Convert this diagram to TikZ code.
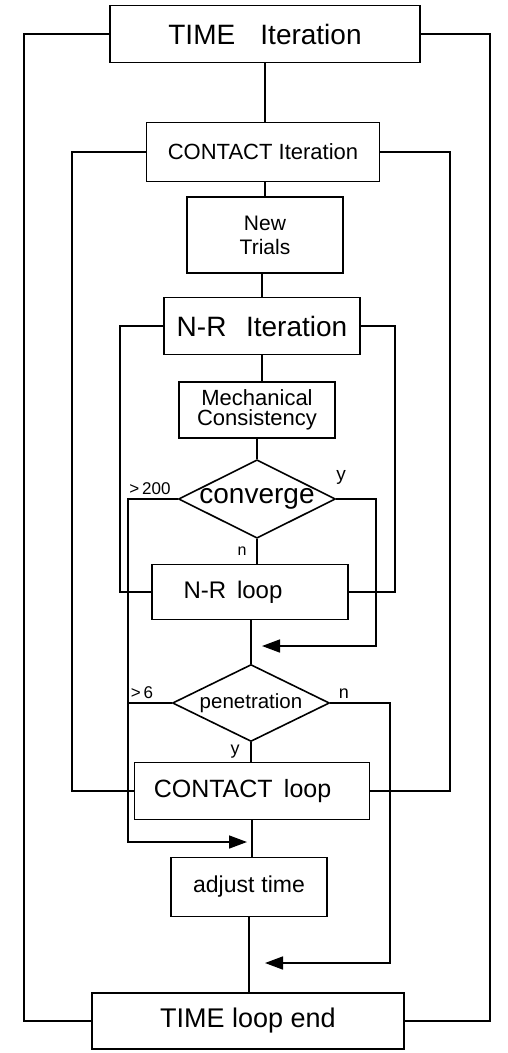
\documentclass[tikz,border=0pt]{standalone}
\usepackage{fontspec}
\setmainfont{Liberation Sans}
\usetikzlibrary{
  arrows.meta,
  shapes.geometric
}
\tikzset{
  % For plain lines and box outlines.
  line/.style={
    line width=1.6pt},
%
  % For the process boxes.
  block/.style={
    draw,
    line,
    rectangle,
    inner sep=0pt,
    align=center},
%
  % For the yes/no tests.
  test/.style={
    draw,
    line,
    diamond,
    aspect=2,
    inner sep=0pt},
%
  % For lines that end in a big solid arrow.
  direction/.style={
    line,
    -{Triangle[length=18pt, width=13pt]}},
%
  % For the small branch labels.
  tag/.style={
    inner sep=0pt,
    font=\fontsize{16pt}{16pt}\selectfont}
}

\begin{document}
\begin{tikzpicture}[x=1pt, y=-1pt]
  \useasboundingbox (0,0) rectangle (508,1053);

  % main column
  \node[block, minimum width=310pt, minimum height=57pt,
        font=\fontsize{28pt}{30pt}\selectfont] (time iter) at (265,34)
       {TIME\hspace{0.9em}Iteration};
  \node[block, minimum width=233pt, minimum height=59pt,
        font=\fontsize{22pt}{24pt}\selectfont] (contact iter) at (263,152)
       {CONTACT Iteration};
  \node[block, minimum width=156pt, minimum height=76pt,
        font=\fontsize{21pt}{24pt}\selectfont] (new trials) at (265,235)
       {New\\Trials};
  \node[block, minimum width=196pt, minimum height=57pt,
        font=\fontsize{28pt}{30pt}\selectfont] (nr iter) at (262,326)
       {N-R\hspace{0.7em}Iteration};
  \node[block, minimum width=156pt, minimum height=56pt,
        font=\fontsize{22pt}{20pt}\selectfont] (mech) at (257,410)
       {Mechanical\\Consistency};
  \node[test, minimum width=155pt, minimum height=76pt,
        font=\fontsize{28pt}{28pt}\selectfont] (converge) at (257,499)
       {converge};
  \node[block, minimum width=196pt, minimum height=55pt,
        font=\fontsize{24pt}{26pt}\selectfont] (nr loop) at (250,592)
       {N-R\hspace{0.45em}loop\hspace{34pt}};
  \node[test, minimum width=157pt, minimum height=77pt,
        font=\fontsize{20.5pt}{22pt}\selectfont] (penetration) at (251,703)
       {penetration};
  \node[block, minimum width=235pt, minimum height=57pt,
        font=\fontsize{25pt}{27pt}\selectfont] (contact loop) at (252,791)
       {CONTACT\hspace{0.45em}loop\hspace{19pt}};
  \node[block, minimum width=156pt, minimum height=59pt,
        font=\fontsize{23pt}{25pt}\selectfont] (adjust) at (249,887)
       {adjust\hspace{0.3em}time};
  \node[block, minimum width=312pt, minimum height=56pt,
        font=\fontsize{27pt}{29pt}\selectfont] (time end) at (248,1021)
       {TIME loop end};

  % rails of the three loops and the branch corners
  \coordinate (time rail l) at (24,0);
  \coordinate (time rail r) at (490,0);
  \coordinate (contact rail l) at (72,0);
  \coordinate (contact rail r) at (450,0);
  \coordinate (nr rail l) at (120,0);
  \coordinate (nr rail r) at (395,0);
  \coordinate (fail corner) at (128,842);
  \coordinate (fail tip) at (247,842);
  \coordinate (yes corner) at (376,646);
  \coordinate (yes tip) at (262,646);
  \coordinate (no corner) at (390,963);
  \coordinate (no tip) at (265,963);

  % straight run down the middle
  \draw[line] (time iter.south) -- (time iter.south |- contact iter.north);
  \draw[line] (new trials.north |- contact iter.south) -- (new trials.north);
  \draw[line] (nr iter.north |- new trials.south) -- (nr iter.north);
  \draw[line] (nr iter.south) -- (nr iter.south |- mech.north);
  \draw[line] (converge.north |- mech.south) -- (converge.north);
  \draw[line] (converge.south) -- (converge.south |- nr loop.north);
  \draw[line] (penetration.north |- nr loop.south) -- (penetration.north);
  \draw[line] (penetration.south) -- (penetration.south |- contact loop.north);
  \draw[line] (contact loop.south) -- (contact loop.south |- adjust.north);
  \draw[line] (adjust.south) -- (adjust.south |- time end.north);

  % loops
  \draw[line] (time iter.west) -- (time iter.west -| time rail l)
              -- (time end.west -| time rail l) -- (time end.west);
  \draw[line] (time iter.east) -- (time iter.east -| time rail r)
              -- (time end.east -| time rail r) -- (time end.east);
  \draw[line] (contact iter.west) -- (contact iter.west -| contact rail l)
              -- (contact loop.west -| contact rail l) -- (contact loop.west);
  \draw[line] (contact iter.east) -- (contact iter.east -| contact rail r)
              -- (contact loop.east -| contact rail r) -- (contact loop.east);
  \draw[line] (nr iter.west) -- (nr iter.west -| nr rail l)
              -- (nr loop.west -| nr rail l) -- (nr loop.west);
  \draw[line] (nr iter.east) -- (nr iter.east -| nr rail r)
              -- (nr loop.east -| nr rail r) -- (nr loop.east);

  % branches
  \draw[direction] (converge.west) -| (fail corner) -- (fail tip);
  \draw[line] (penetration.west) -- (penetration.west -| fail corner);
  \draw[direction] (converge.east) -| (yes corner) -- (yes tip);
  \draw[direction] (penetration.east) -| (no corner) -- (no tip);

  % branch labels
  \node[tag, font=\fontsize{17pt}{17pt}\selectfont] (conv many) at (150,489) {>\,200};
  \node[tag, font=\fontsize{19pt}{19pt}\selectfont] (conv yes) at (341,477) {y};
  \node[tag] (conv no) at (242,551) {n};
  \node[tag, font=\fontsize{17pt}{17pt}\selectfont] (pen many) at (142,693) {>\,6};
  \node[tag, font=\fontsize{18pt}{18pt}\selectfont] (pen no) at (344,694) {n};
  \node[tag, font=\fontsize{18pt}{18pt}\selectfont] (pen yes) at (235,752) {y};
\end{tikzpicture}
\end{document}
